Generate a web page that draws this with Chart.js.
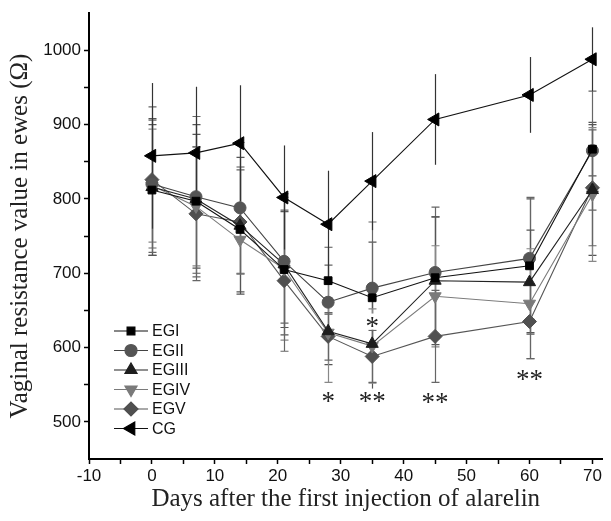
<!DOCTYPE html>
<html>
<head>
<meta charset="utf-8">
<script src="https://cdn.jsdelivr.net/npm/chart.js@4/dist/chart.umd.min.js"></script>
<style>
  html, body { margin: 0; padding: 0; background: #fff; }
  #wrap { width: 611px; height: 521px; }
</style>
</head>
<body>
<div id="wrap"><canvas id="chart" width="611" height="521"></canvas></div>
<script>
// Vaginal resistance in ewes
const days = [0, 7, 14, 21, 28, 35, 45, 60, 70];

const egI   = [812, 797, 759, 705, 690, 667, 694, 710, 867];
const egII  = [820, 803, 788, 716, 661, 680, 701, 720, 865];
const egIII = [816, 800, 764, 712, 622, 605, 690, 688, 812];
const egIV  = [818, 790, 745, 706, 620, 602, 669, 659, 806];
const egV   = [826, 780, 769, 690, 615, 588, 615, 635, 815];
const cg    = [858, 862, 875, 802, 766, 824, 907, 940, 988];

// error bar half-lengths (SD)
const sdI   = [88, 90, 84, 78, 45, 75, 82, 90, 36];
const sdII  = [86, 108, 88, 83, 50, 89, 88, 82, 80];
const sdIII = [92, 100, 92, 95, 45, 70, 86, 70, 88];
const sdIV  = [76, 80, 46, 96, 67, 50, 68, 74, 90];
const sdV   = [98, 90, 70, 95, 32, 35, 62, 50, 78];
const sdCG  = [98, 89, 78, 70, 72, 66, 61, 51, 43];

const seriesNames = ['EGI', 'EGII', 'EGIII', 'EGIV', 'EGV', 'CG'];

// significance marks
const starDays   = [28, 35, 35, 45, 60];
const starValues = [534, 534, 635, 532, 563];
const starLabels = ['*', '**', '*', '**', '**'];

const xTicks = [-10, -5, 0, 5, 10, 15, 20, 25, 30, 35, 40, 45, 50, 55, 60, 65, 70];
const yTicks = [500, 550, 600, 650, 700, 750, 800, 850, 900, 950, 1000];

function toPoints(vals) {
    return days.map((d, i) => ({ x: d, y: vals[i] }));
}

function makeSet(i, vals, sd, color, lineColor, style, rotation, radius, caps, errColor) {
    return {
        label: seriesNames[i],
        data: toPoints(vals),
        sd: sd,
        caps: caps,
        errColor: errColor,
        showLine: true,
        borderColor: lineColor,
        borderWidth: 1.1,
        backgroundColor: color,
        pointBackgroundColor: color,
        pointBorderColor: color,
        pointBorderWidth: 1,
        pointStyle: style,
        pointRotation: rotation,
        pointRadius: radius,
        tension: 0,
        clip: false
    };
}

const datasets = [
    makeSet(0, egI, sdI, '#000000', '#111111', 'rect', 0, 5.5, true, '#555'),
    makeSet(1, egII, sdII, '#555555', '#444444', 'circle', 0, 6, true, '#666'),
    makeSet(2, egIII, sdIII, '#1e1e1e', '#222222', 'triangle', 0, 7, true, '#555'),
    makeSet(3, egIV, sdIV, '#7a7a7a', '#7a7a7a', 'triangle', 180, 7, true, '#888'),
    makeSet(4, egV, sdV, '#505050', '#555555', 'rectRot', 0, 7, true, '#666'),
    makeSet(5, cg, sdCG, '#000000', '#111111', 'triangle', -90, 7.5, false, '#333')
];

// Error bars, drawn under the lines
const errorBars = {
    id: 'errorBars',
    beforeDatasetsDraw(chart) {
        const { ctx, scales: { x, y } } = chart;
        chart.data.datasets.forEach(ds => {
            ctx.save();
            ctx.strokeStyle = ds.errColor;
            ctx.lineWidth = 1.2;
            ds.data.forEach((pt, i) => {
                const px = Math.round(x.getPixelForValue(pt.x)) + 0.5;
                const top = y.getPixelForValue(pt.y + ds.sd[i]);
                const bot = y.getPixelForValue(pt.y - ds.sd[i]);
                ctx.beginPath();
                ctx.moveTo(px, top);
                ctx.lineTo(px, bot);
                if (ds.caps) {
                    ctx.moveTo(px - 4, top);
                    ctx.lineTo(px + 4, top);
                    ctx.moveTo(px - 4, bot);
                    ctx.lineTo(px + 4, bot);
                }
                ctx.stroke();
            });
            ctx.restore();
        });
    }
};

// Asterisks and the in-plot legend
const annotations = {
    id: 'annotations',
    afterDatasetsDraw(chart) {
        const { ctx, scales: { x, y } } = chart;
        ctx.save();
        ctx.font = '27px "Liberation Serif"';
        ctx.textAlign = 'center';
        ctx.textBaseline = 'middle';
        starLabels.forEach((txt, i) => {
            const px = x.getPixelForValue(starDays[i]);
            const py = y.getPixelForValue(starValues[i]);
            const w = ctx.measureText(txt).width;
            ctx.fillStyle = '#fff';
            ctx.fillRect(px - w / 2 - 1, py - 8, w + 2, 16);
            ctx.fillStyle = '#222';
            ctx.fillText(txt, px, py + 6);
        });

        // legend
        ctx.font = '16px "Liberation Sans"';
        ctx.textAlign = 'left';
        chart.data.datasets.forEach((ds, i) => {
            const ly = 331 + i * 19.5;
            ctx.strokeStyle = ds.borderColor;
            ctx.lineWidth = 1.2;
            ctx.beginPath();
            ctx.moveTo(114, ly);
            ctx.lineTo(148, ly);
            ctx.stroke();
            ctx.fillStyle = ds.pointBackgroundColor;
            ctx.strokeStyle = ds.pointBorderColor;
            Chart.helpers.drawPoint(ctx, {
                pointStyle: ds.pointStyle,
                rotation: ds.pointRotation,
                radius: ds.pointRadius,
                borderWidth: 1
            }, 131, ly);
            ctx.fillStyle = '#111';
            ctx.fillText(ds.label, 152, ly + 1);
        });
        ctx.restore();
    }
};

const tickFont = { family: 'Liberation Sans', size: 17 };
const titleFont = { family: 'Liberation Serif', size: 25 };

new Chart(document.getElementById('chart'), {
    type: 'line',
    data: { datasets: datasets },
    options: {
        responsive: false,
        animation: false,
        devicePixelRatio: 1,
        layout: { padding: { top: 11, right: 0, bottom: 0, left: 0 } },
        plugins: {
            legend: { display: false },
            tooltip: { enabled: false }
        },
        scales: {
            x: {
                type: 'linear',
                min: -10,
                max: 71.6,
                afterBuildTicks: s => { s.ticks = xTicks.map(v => ({ value: v })); },
                afterFit: s => { s.height = 62; },
                ticks: {
                    autoSkip: false,
                    maxRotation: 0,
                    padding: 2,
                    color: '#111',
                    font: tickFont,
                    callback: v => (v % 10 === 0 ? v : '')
                },
                grid: { drawOnChartArea: false, drawTicks: true, tickLength: 5, tickColor: '#000', tickWidth: 1.5 },
                border: { color: '#000', width: 2 },
                title: {
                    display: true,
                    text: 'Days after the first injection of alarelin',
                    font: titleFont,
                    color: '#222',
                    padding: { top: 0, bottom: 7 }
                }
            },
            y: {
                min: 450,
                max: 1050,
                afterBuildTicks: s => { s.ticks = yTicks.map(v => ({ value: v })); },
                afterFit: s => { s.width = 89; },
                ticks: {
                    autoSkip: false,
                    padding: 3,
                    color: '#111',
                    font: tickFont,
                    callback: v => (v % 100 === 0 ? v : '')
                },
                grid: { drawOnChartArea: false, drawTicks: true, tickLength: 5, tickColor: '#000', tickWidth: 1.5 },
                border: { color: '#000', width: 2 },
                title: {
                    display: true,
                    text: 'Vaginal resistance value in ewes (Ω)',
                    font: titleFont,
                    color: '#222',
                    padding: { top: 5, bottom: 0 }
                }
            }
        }
    },
    plugins: [errorBars, annotations]
});
</script>
</body>
</html>
